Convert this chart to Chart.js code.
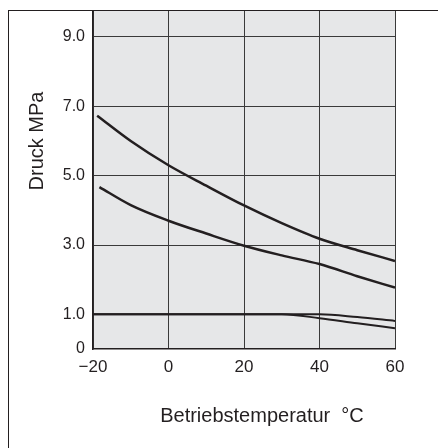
<!DOCTYPE html>
<html>
<head>
<meta charset="utf-8">
<script src="https://cdn.jsdelivr.net/npm/chart.js@4"></script>
<style>
  body { margin: 0; background: #fff; overflow: hidden; }
  #wrap { position: relative; width: 438px; height: 448px; }
  #druck_graph { position: absolute; left: 0; top: 0; }
  #frame { position: absolute; left: 8px; top: 10px; width: 440px; height: 450px;
           border-left: 1px solid #231f20; border-top: 1px solid #231f20; pointer-events: none; }
  .title { position: absolute; font: 20px 'Liberation Sans', Arial, sans-serif; color: #231f20;
           white-space: pre; line-height: 24px; text-align: center; }
  #xtitle { left: 142px; top: 403px; width: 240px; }
  #ytitle { left: -24px; top: 129px; width: 120px; transform: rotate(-90deg); }
</style>
</head>
<body>
<div id="wrap">
  <canvas id="druck_graph" width="438" height="448"></canvas>
  <div id="frame"></div>
  <div class="title" id="xtitle">Betriebstemperatur  °C</div>
  <div class="title" id="ytitle">Druck MPa</div>
</div>
<script>
const xTicks = [-20, 0, 20, 40, 60];
const yTicks = [0, 1, 3, 5, 7, 9];

// TS0425, TS0604
const tempTS = [-18.9, -10, 0, 10, 20, 30, 40, 50, 60];
const druckTS = [6.73, 6.0, 5.3, 4.71, 4.14, 3.63, 3.18, 2.85, 2.54];

// Andere als TS0425, TS0604
const tempAndere = [-18.3, -10, 0, 10, 20, 30, 40, 50, 60];
const druckAndere = [4.67, 4.15, 3.7, 3.33, 2.98, 2.7, 2.45, 2.1, 1.77];

// max. Betriebsdruck
const tempMax = [-20, 0, 20, 30, 40, 50, 60];
const maxTS = [1.0, 1.0, 1.0, 1.0, 1.0, 0.92, 0.81];
const maxAusser = [1.0, 1.0, 1.0, 1.0, 0.89, 0.74, 0.6];

const labelTS = 'TS0425, TS0604';
const labelAndere = 'Andere als TS0425, TS0604';
const labelMaxTS = 'max.Betriebsdruck (TS0425, TS0604)';
const labelMaxAusser = 'max.Betriebsdruck (au\u00dfer TS0425, TS0604)';

const grey = '#e6e7e8';
const ink = '#231f20';
const gridInk = '#3a3a3a';
const family = "'Liberation Sans', Arial, sans-serif";

function toPoints(xs, ys) {
    return xs.map((x, i) => ({x: x, y: ys[i]}));
}

const plotDecor = {
    id: 'plotDecor',
    beforeDraw(chart) {
        const ctx = chart.ctx, a = chart.chartArea;
        ctx.save();
        ctx.fillStyle = grey;
        ctx.fillRect(a.left, a.top, a.right - a.left, a.bottom - a.top);
        ctx.restore();
    }
};

function lineSet(label, xs, ys, width) {
    return {
        label: label,
        data: toPoints(xs, ys),
        borderColor: ink,
        backgroundColor: ink,
        borderWidth: width,
        pointRadius: 0,
        fill: false,
        cubicInterpolationMode: 'monotone',
    };
}

const data = {
    datasets: [
        lineSet(labelTS, tempTS, druckTS, 2.5),
        lineSet(labelAndere, tempAndere, druckAndere, 2.5),
        lineSet(labelMaxTS, tempMax, maxTS, 2),
        lineSet(labelMaxAusser, tempMax, maxAusser, 2),
    ]
};

const config = {
    type: 'line',
    data: data,
    plugins: [plotDecor],
    options: {
        responsive: false,
        animation: false,
        layout: {padding: {top: 11, right: 43, left: 0, bottom: 0}},
        plugins: {legend: {display: false}, tooltip: {enabled: false}},
        scales: {
            x: {
                type: 'linear', min: -20, max: 60,
                afterBuildTicks: s => { s.ticks = xTicks.map(v => ({value: v})); },
                afterFit: s => { s.height = 99; },
                grid: {color: gridInk, lineWidth: 1, drawTicks: false},
                border: {display: true, color: ink, width: 1.5},
                ticks: {padding: 8, color: ink, maxRotation: 0, font: {family: family, size: 17},
                        callback: v => v < 0 ? '\u2212' + Math.abs(v) : String(v)}
            },
            y: {
                type: 'linear', min: 0, max: 9.75,
                afterBuildTicks: s => { s.ticks = yTicks.map(v => ({value: v})); },
                afterFit: s => { s.width = 93; s.paddingTop = 0; s.paddingBottom = 0; },
                grid: {color: c => (c.tick && c.tick.value >= 3) ? gridInk : 'rgba(0,0,0,0)', lineWidth: 1, drawTicks: false},
                border: {display: true, color: ink, width: 1.5},
                ticks: {padding: 8, color: ink, font: {family: family, size: 16},
                        callback: v => v === 0 ? '0' : v.toFixed(1)}
            }
        }
    }
};

const druck_graph = new Chart(document.getElementById('druck_graph'), config);
</script>
</body>
</html>
